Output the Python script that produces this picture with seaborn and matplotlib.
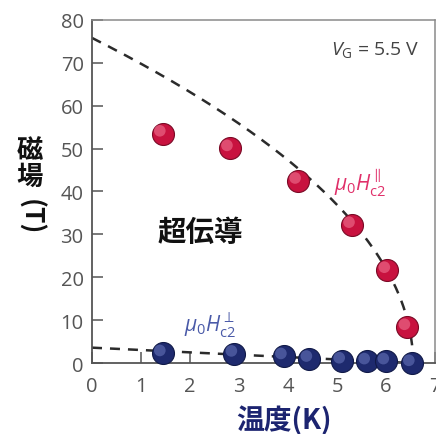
import numpy as np
import pandas as pd
import matplotlib
matplotlib.use("Agg")
import matplotlib.pyplot as plt
from matplotlib.transforms import ScaledTranslation
import seaborn as sns

# Measured upper critical fields (T) versus temperature (K)
temp_par = [1.44, 2.81, 4.20, 5.30, 6.02, 6.43]
hc2_par = [53.5, 50.1, 42.5, 32.2, 21.7, 8.4]

temp_perp = [1.44, 2.90, 3.91, 4.43, 5.10, 5.61, 6.00, 6.52]
hc2_perp = [2.3, 2.2, 1.6, 1.0, 0.6, 0.4, 0.4, 0.0]

# Fit parameters: 2D Ginzburg-Landau forms
tc_fit = 6.55
hpar0_fit = 75.8   # H_par(T) = H0 * sqrt(1 - T/Tc)
hperp0_fit = 3.6   # H_perp(T) = H0 * (1 - T/Tc)

x_ticks = [0, 1, 2, 3, 4, 5, 6, 7]
y_ticks = [0, 10, 20, 30, 40, 50, 60, 70, 80]

sns.set_theme(style="white")
plt.rcParams["font.family"] = ["Open Sans", "DejaVu Sans"]
plt.rcParams["mathtext.fontset"] = "custom"
plt.rcParams["mathtext.rm"] = "Open Sans"
plt.rcParams["mathtext.it"] = "Open Sans:italic"
plt.rcParams["mathtext.bf"] = "Open Sans:bold"

cjk = ["Noto Sans CJK JP", "DejaVu Sans"]

fig = plt.figure(figsize=(4.36, 4.35), dpi=100)
ax = fig.add_axes([0.211, 0.163, 0.787, 0.789])

# Fit curves
t_fit = np.linspace(0, tc_fit, 300)
fit_df = pd.DataFrame({
    "T": t_fit,
    "par": hpar0_fit * np.sqrt(np.clip(1 - t_fit / tc_fit, 0, None)),
    "perp": hperp0_fit * (1 - t_fit / tc_fit),
})
for col in ["par", "perp"]:
    sns.lineplot(data=fit_df, x="T", y=col, ax=ax, color="#2b2b2b",
                 linewidth=1.8, dashes=False, zorder=2)
    ax.lines[-1].set_dashes([4, 3.2])

par_df = pd.DataFrame({"T": temp_par, "H": hc2_par})
perp_df = pd.DataFrame({"T": temp_perp, "H": hc2_perp})

shift = ScaledTranslation(-2.0 / 72, 2.0 / 72, fig.dpi_scale_trans)


def spheres(df, base, edge, light):
    sns.scatterplot(data=df, x="T", y="H", ax=ax, s=250, color=base,
                    edgecolor=edge, linewidth=0.8, zorder=3, clip_on=False)
    sns.scatterplot(data=df, x="T", y="H", ax=ax, s=70, color=light,
                    edgecolor="none", alpha=0.55, zorder=4, clip_on=False,
                    transform=ax.transData + shift)


spheres(par_df, "#c8123f", "#7a0a26", "#f27c9a")
spheres(perp_df, "#1e2a6e", "#111a48", "#6c7ac0")

ax.set_xlim(0, 7)
ax.set_ylim(0, 80)
ax.set_xticks(x_ticks)
ax.set_yticks(y_ticks)
ax.set_xticklabels([str(v) for v in x_ticks])
ax.set_yticklabels([str(v) for v in y_ticks])
ax.set_xlabel("")
ax.set_ylabel("")

ax.tick_params(axis="both", direction="in", length=8, width=1.1,
               color="#555555", labelcolor="#555555", labelsize=14.5,
               bottom=True, left=True, top=False, right=False)
ax.tick_params(axis="x", pad=9)
ax.tick_params(axis="y", pad=6)
for side in ["left", "bottom"]:
    ax.spines[side].set_color("#555555")
    ax.spines[side].set_linewidth(1.3)
for side in ["top", "right"]:
    ax.spines[side].set_color("#8a8a8a")
    ax.spines[side].set_linewidth(1.1)

# Annotations
ax.text(0.955, 0.915, r"$V_{\rm G}$ = 5.5 V", transform=ax.transAxes,
        ha="right", va="center", fontsize=14, color="#444444")
ax.text(4.93, 42.2, r"$\mu_0 H^{\parallel}_{\rm c2}$", ha="left", va="center",
        fontsize=15, color="#e0306a")
ax.text(1.88, 9.0, r"$\mu_0 H^{\perp}_{\rm c2}$", ha="left", va="center",
        fontsize=15, color="#4a5aa8")
ax.text(1.33, 30.6, "超伝導", ha="left", va="center", fontsize=20.5,
        fontweight="bold", color="#111111", family=cjk)

# Axis titles (vertical y title with rotated parenthesised unit)
fig.text(30 / 436, 1 - 164 / 435, "磁\n場", ha="center", va="center",
         fontsize=19, fontweight="bold", color="#111111", family=cjk,
         linespacing=0.95)
fig.text(30 / 436, 1 - 217 / 435, "(T)", ha="center", va="center",
         rotation=-90, fontsize=19, fontweight="bold", color="#111111",
         family=cjk)
fig.text(284 / 436, 1 - 421 / 435, "温度(K)", ha="center", va="center",
         fontsize=20, fontweight="bold", color="#1c2470", family=cjk)

fig.savefig("out.png", dpi=100)
